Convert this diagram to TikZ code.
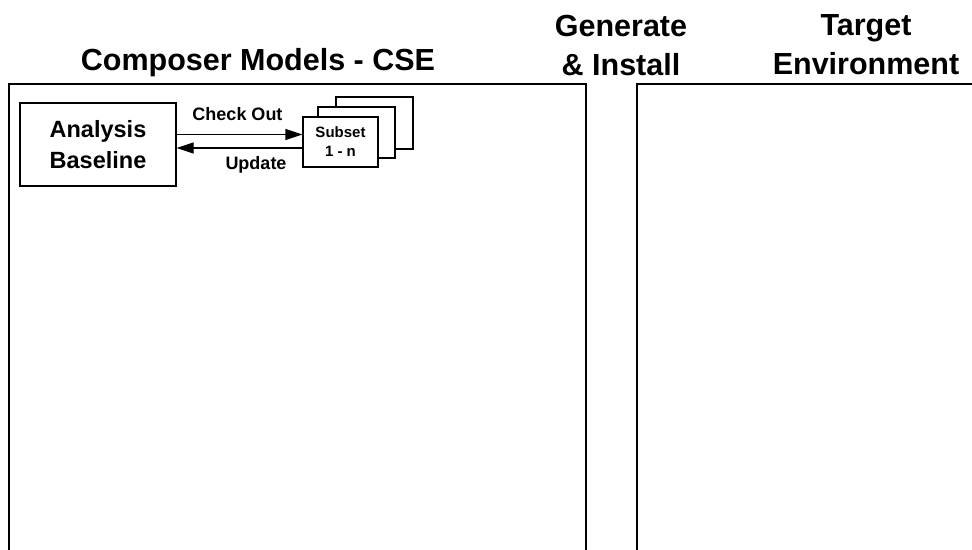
\documentclass[tikz,border=0pt]{standalone}
\usepackage{fontspec}
\setmainfont{Liberation Sans}
\usetikzlibrary{arrows.meta,calc}
\begin{document}
\begin{tikzpicture}[x=1pt,y=-1pt,
  panel/.style={draw=black,line width=1.4pt},
  box/.style={draw=black,line width=1.2pt,fill=white,inner sep=0pt,align=center,font=\bfseries},
  title/.style={align=center,font=\bfseries\fontsize{30.5}{39}\selectfont,inner sep=0pt},
  lbl/.style={font=\bfseries\fontsize{18}{20}\selectfont,inner sep=0pt},
  arr/.style={line width=1.2pt,-{Triangle[length=17pt,width=11pt]}}]
\useasboundingbox (0,0) rectangle (972,549);
\fill[white] (0,0) rectangle (972,549);
\begin{scope}
\clip (0,0) rectangle (972,549);
\draw[panel] (9,600) -- (9,84) -- (586,84) -- (586,600);
\draw[panel] (637,600) -- (637,84) -- (1000,84);
\end{scope}
\node[title] (t1) at (258,63) {Composer Models - CSE};
\node[title] (t2) at (621,45) {Generate\\\& Install};
\node[title] (t3) at (866,45) {Target\\Environment};
\node[box,minimum width=156pt,minimum height=83pt,font=\bfseries\fontsize{23.5}{31}\selectfont] (ab) at (98,144.5) {Analysis\\Baseline};
\node[box,minimum width=77pt,minimum height=52pt] (sub3) at (374.5,123) {};
\node[box,minimum width=77pt,minimum height=51pt] (sub2) at (356.5,132.5) {};
\node[box,minimum width=75pt,minimum height=50pt,font=\bfseries\fontsize{15}{19}\selectfont] (sub1) at (340.5,142) {Subset\\1 - n};
\draw[arr] (ab.east |- {$(sub1.west)+(0,-7.5)$}) -- ($(sub1.west)+(0,-7.5)$);
\draw[arr] ($(sub1.west)+(0,6)$) -- (ab.east |- {$(sub1.west)+(0,6)$});
\node[lbl] (co) at (237.5,114) {Check Out};
\node[lbl] (up) at (256,165) {Update};
\end{tikzpicture}
\end{document}
